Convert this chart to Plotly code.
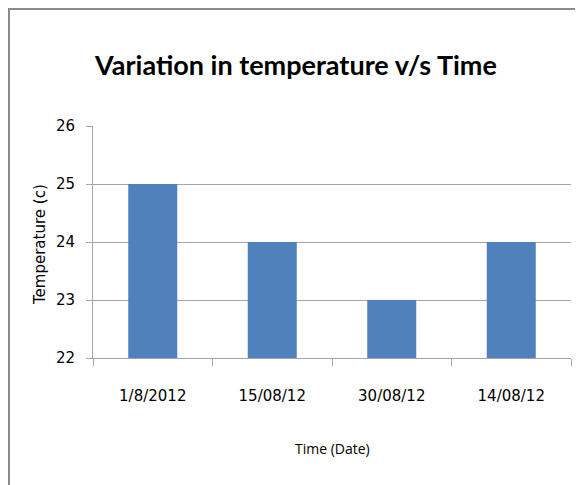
import plotly.graph_objects as go

categories = ["1/8/2012", "15/08/12", "30/08/12", "14/08/12"]
temperatures = [25, 24, 23, 24]
y_ticks = [22, 23, 24, 25, 26]

# page is rendered with an 8px body margin; figure is sized to fit the window
OFF = 8
W, H = 583 - OFF, 485 - OFF
L, R, T, B = 93 - OFF, 12, 126 - OFF, 127
pw, ph = W - L - R, H - T - B

def px_x(p):  # page pixel -> paper x
    return (p - OFF - L) / pw

def px_y(p):  # page pixel -> paper y
    return (H - B - (p - OFF)) / ph

fig = go.Figure(go.Bar(x=categories, y=temperatures, marker=dict(color="#4F81BD", line=dict(width=0))))

fig.update_layout(
    width=W, height=H,
    margin=dict(l=L, r=R, t=T, b=B),
    paper_bgcolor="white", plot_bgcolor="white",
    bargap=0.59,
    showlegend=False,
    title=dict(text="<b>Variation in temperature v/s Time</b>",
               font=dict(family="Lato, sans-serif", size=27, color="black"),
               x=(296 - OFF) / W, xanchor="center", y=1 - (66 - OFF) / H, yanchor="middle", yref="container"),
    font=dict(family="DejaVu Sans, sans-serif", color="black"),
)

fig.update_yaxes(range=[22, 26], tickvals=y_ticks, showgrid=True, gridcolor="#a6a6a6", gridwidth=1,
                 showline=True, linecolor="#a6a6a6", linewidth=1,
                 ticks="outside", ticklen=6, tickcolor="#a6a6a6",
                 ticklabelstandoff=8, tickfont=dict(size=15, family="DejaVu Sans", color="black"),
                 zeroline=False)
fig.update_xaxes(showline=True, linecolor="#a6a6a6", linewidth=1, showgrid=False,
                 ticks="outside", ticklen=7, tickcolor="#a6a6a6", tickson="boundaries",
                 ticklabelstandoff=24, tickfont=dict(size=15, family="DejaVu Sans", color="black"))

fig.add_annotation(text="Temperature (c)", textangle=-90, xref="paper", yref="paper",
                   x=px_x(40), y=px_y(245), showarrow=False, xanchor="center", yanchor="middle",
                   font=dict(size=15, family="DejaVu Sans", color="black"))
fig.add_annotation(text="Time (Date)", xref="paper", yref="paper",
                   x=px_x(332), y=px_y(448), showarrow=False, xanchor="center", yanchor="middle",
                   font=dict(size=14, family="Open Sans", color="black"))

fig.add_shape(type="path", xref="paper", yref="paper",
              path=f"M {px_x(9)} {px_y(490)} L {px_x(9)} {px_y(9)} L {px_x(600)} {px_y(9)}",
              line=dict(color="#8c8c8c", width=2))

fig.write_html("out.html")
